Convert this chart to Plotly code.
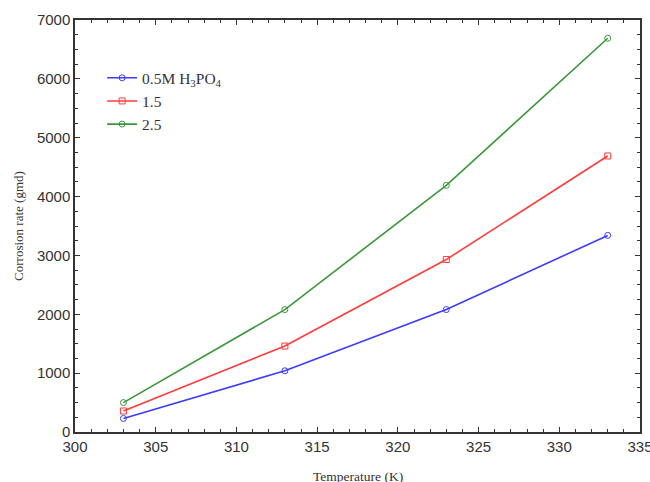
import plotly.graph_objects as go

temperature = [303, 313, 323, 333]
rate_05M = [230, 1040, 2080, 3340]
rate_15M = [357, 1460, 2930, 4690]
rate_25M = [500, 2080, 4190, 6690]

series_names = ["0.5M H<sub>3</sub>PO<sub>4</sub>", "1.5", "2.5"]
series_values = [rate_05M, rate_15M, rate_25M]
colors = ["#3b3bff", "#ff3b3b", "#3a963a"]
symbols = ["circle-open", "square-open", "circle-open"]

fig = go.Figure()
for name, vals, c, s in zip(series_names, series_values, colors, symbols):
    fig.add_trace(go.Scatter(
        x=temperature, y=vals, name=name, mode="lines+markers",
        line=dict(color=c, width=1.6),
        marker=dict(symbol=s, size=6, color=c, line=dict(width=1, color=c)),
    ))

axis_common = dict(
    showline=True, linecolor="#333", linewidth=1.5, mirror="allticks",
    ticks="inside", tickcolor="#333", showgrid=False, zeroline=False,
    automargin=False, ticklabeloverflow="allow",
    tickfont=dict(family="Liberation Sans, Arial", size=15, color="#333"),
)

fig.update_xaxes(
    range=[300, 335], dtick=5, tick0=300, ticklen=5,
    minor=dict(dtick=1, ticks="inside", ticklen=3, tickcolor="#333"),
    **axis_common,
)
fig.update_yaxes(
    range=[0, 7000], dtick=1000, tick0=0, ticklen=5,
    minor=dict(dtick=250, ticks="inside", ticklen=3, tickcolor="#333"),
    **axis_common,
)

serif = "Liberation Serif, Times New Roman"
fig.add_annotation(text="Temperature (K)", xref="paper", yref="paper",
                   x=0.5, y=-0.107, xanchor="center", yanchor="middle",
                   showarrow=False, font=dict(family=serif, size=13.5, color="#333"))
fig.add_annotation(text="Corrosion rate (gmd)", xref="paper", yref="paper",
                   x=-0.101, y=0.5, xanchor="center", yanchor="middle", textangle=-90,
                   showarrow=False, font=dict(family=serif, size=13, color="#333"))

fig.update_layout(
    width=650, height=482,
    margin=dict(l=75, r=10, t=20, b=50),
    plot_bgcolor="white", paper_bgcolor="white",
    legend=dict(x=0.048, y=0.90, xanchor="left", yanchor="top",
                bgcolor="rgba(0,0,0,0)", tracegroupgap=0,
                font=dict(family=serif, size=15.5, color="#333")),
    showlegend=True,
)

fig.write_html("out.html", post_script="document.body.style.margin='0';",
               config={"displayModeBar": False})
